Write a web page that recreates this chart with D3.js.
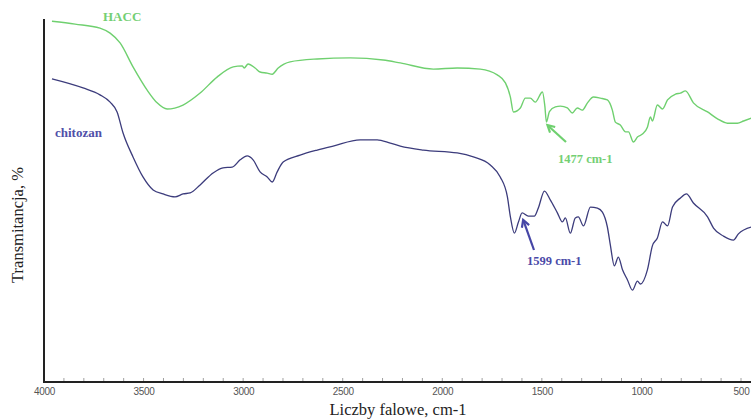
<!DOCTYPE html>
<html>
<head>
<meta charset="utf-8">
<script src="https://cdn.jsdelivr.net/npm/d3@7"></script>
<style>
  html, body { margin: 0; padding: 0; background: #fff; }
  svg { display: block; }
</style>
</head>
<body>
<svg id="chart" width="751" height="419"></svg>
<script>
// FTIR spectra: wavenumber (cm-1) and transmittance (%, arbitrary offset)
const haccWavenumber = [3960, 3844, 3719, 3668, 3618, 3553, 3482, 3432, 3382, 3302, 3216, 3131, 3050, 3005, 2995, 2975, 2940, 2915, 2879, 2854, 2824, 2764, 2628, 2462, 2297, 2211, 2045, 1925, 1809, 1724, 1683, 1658, 1643, 1608, 1583, 1558, 1533, 1497, 1485, 1477, 1462, 1432, 1407, 1372, 1347, 1322, 1297, 1271, 1241, 1206, 1171, 1146, 1131, 1106, 1080, 1065, 1040, 1020, 995, 970, 955, 945, 920, 894, 869, 829, 804, 779, 739, 668, 618, 568, 518, 487, 447];
const haccT = [99.4, 98.6, 97.5, 96.1, 93.4, 86.8, 80.4, 76.9, 75.2, 76.3, 79.6, 84.0, 86.8, 87.1, 86.5, 87.6, 86.5, 85.4, 85.1, 84.8, 86.5, 88.2, 89.0, 89.3, 88.7, 87.9, 86.2, 86.5, 86.2, 84.6, 82.4, 78.5, 74.4, 75.5, 78.2, 78.2, 77.1, 79.9, 76.0, 71.6, 74.5, 75.8, 76.0, 75.5, 74.1, 75.5, 74.9, 76.9, 78.5, 78.2, 77.7, 74.9, 71.6, 70.8, 68.9, 68.9, 66.1, 67.5, 68.3, 70.2, 73.0, 71.9, 76.3, 75.2, 77.7, 79.3, 79.6, 80.2, 76.9, 74.4, 72.5, 71.3, 71.3, 71.9, 72.7];

const chitWavenumber = [3960, 3804, 3719, 3668, 3633, 3603, 3553, 3503, 3452, 3402, 3342, 3302, 3266, 3216, 3151, 3101, 3055, 3015, 2980, 2950, 2915, 2879, 2854, 2829, 2799, 2714, 2628, 2548, 2412, 2327, 2261, 2211, 2095, 1925, 1844, 1759, 1709, 1673, 1658, 1638, 1618, 1599, 1568, 1538, 1518, 1487, 1457, 1422, 1397, 1382, 1357, 1332, 1317, 1291, 1256, 1221, 1196, 1171, 1156, 1136, 1116, 1095, 1070, 1045, 1020, 1005, 970, 945, 920, 894, 869, 844, 804, 774, 739, 668, 638, 588, 538, 513, 447];
const chitT = [83.5, 81.0, 79.1, 77.1, 74.4, 68.6, 62.0, 56.5, 52.9, 51.8, 51.0, 51.8, 52.1, 54.3, 57.6, 59.0, 59.2, 61.2, 62.3, 61.2, 57.9, 56.5, 55.1, 57.9, 60.6, 62.5, 63.9, 65.0, 66.7, 66.7, 65.8, 65.0, 63.9, 63.1, 62.0, 59.8, 56.5, 51.0, 45.5, 41.0, 44.0, 46.6, 45.7, 45.7, 47.9, 52.6, 50.1, 46.6, 44.1, 45.2, 41.0, 45.2, 45.5, 43.0, 48.2, 47.9, 46.8, 42.7, 37.7, 32.0, 34.4, 30.9, 28.1, 25.3, 27.8, 27.0, 30.9, 37.5, 39.7, 44.1, 43.0, 48.2, 50.7, 51.8, 49.3, 45.5, 42.4, 40.2, 39.1, 40.8, 42.7];

const tickValues = [4000, 3500, 3000, 2500, 2000, 1500, 1000, 500];
const seriesNames = ["HACC", "chitozan"];
const bandLabels = [1477, 1599];

const svg = d3.select("#chart");
const x = d3.scaleLinear().domain([4000, 500]).range([44, 741]);
const y = d3.scaleLinear().domain([0, 100]).range([382, 19]);

const green = "#6fd06f";
const navy = "#3c3c7c";

// axes frame
svg.append("line").attr("x1", 44).attr("x2", 44).attr("y1", 19).attr("y2", 382)
  .attr("stroke", "#222").attr("stroke-width", 2);

const xAxis = d3.axisBottom(x).tickValues(tickValues).tickSize(0).tickPadding(6)
  .tickFormat(d3.format("d"));
const gx = svg.append("g").attr("transform", "translate(0,382)").call(xAxis);
gx.select(".domain").remove();
gx.selectAll("text").attr("font-family", "Liberation Sans, Arial, sans-serif")
  .attr("font-size", 10).attr("fill", "#555").attr("letter-spacing", "-0.3");
svg.append("line").attr("x1", 43).attr("x2", 751).attr("y1", 382).attr("y2", 382)
  .attr("stroke", "#222").attr("stroke-width", 2);

// minor ticks every 100 cm-1
svg.append("g").selectAll("line").data(d3.range(3900, 449, -100))
  .join("line")
  .attr("x1", d => x(d)).attr("x2", d => x(d))
  .attr("y1", 378).attr("y2", 381)
  .attr("stroke", "#888").attr("stroke-width", 0.8);

// spectra
const line = d3.line().x(d => x(d[0])).y(d => y(d[1])).curve(d3.curveMonotoneX);
const hacc = d3.zip(haccWavenumber, haccT);
const chit = d3.zip(chitWavenumber, chitT);

svg.append("path").datum(hacc).attr("d", line)
  .attr("fill", "none").attr("stroke", green).attr("stroke-width", 1.4)
  .attr("stroke-linejoin", "round");
svg.append("path").datum(chit).attr("d", line)
  .attr("fill", "none").attr("stroke", navy).attr("stroke-width", 1.3)
  .attr("stroke-linejoin", "round");

// series labels
svg.append("text").attr("x", 103).attr("y", 21).text(seriesNames[0])
  .attr("font-family", "Liberation Serif, Times New Roman, serif").attr("font-weight", "bold")
  .attr("font-size", 13).attr("fill", "#74cf74");
svg.append("text").attr("x", 55).attr("y", 137).text(seriesNames[1])
  .attr("font-family", "Liberation Serif, Times New Roman, serif").attr("font-weight", "bold")
  .attr("font-size", 13).attr("fill", "#5050a8");

// band annotations with arrows
const interp = (ws, ts, w) => {
  for (let i = 0; i < ws.length - 1; i++) {
    if (w <= ws[i] && w >= ws[i + 1]) {
      const t = (ws[i] - w) / (ws[i] - ws[i + 1]);
      return ts[i] + t * (ts[i + 1] - ts[i]);
    }
  }
  return ts[ts.length - 1];
};

function arrow(x1, y1, x2, y2, color) {
  const ang = Math.atan2(y2 - y1, x2 - x1);
  const L = 8, W = 0.5;
  svg.append("line").attr("x1", x1).attr("y1", y1)
    .attr("x2", x2 - Math.cos(ang) * 2).attr("y2", y2 - Math.sin(ang) * 2)
    .attr("stroke", color).attr("stroke-width", 2.2);
  const p1 = [x2 - L * Math.cos(ang - W), y2 - L * Math.sin(ang - W)];
  const p2 = [x2 - L * Math.cos(ang + W), y2 - L * Math.sin(ang + W)];
  svg.append("path").attr("d", `M${p1[0]},${p1[1]} L${x2},${y2} L${p2[0]},${p2[1]}`)
    .attr("fill", "none").attr("stroke", color).attr("stroke-width", 2.2)
    .attr("stroke-linejoin", "miter");
}

// 1477 cm-1 on HACC
{
  const w = bandLabels[0];
  const hx = x(w), hy = y(interp(haccWavenumber, haccT, w)) + 3;
  arrow(566, 142, hx + 1, hy, "#6fd06f");
  svg.append("text").attr("x", 558).attr("y", 163).text(`${w} cm-1`)
    .attr("font-family", "Liberation Serif, Times New Roman, serif").attr("font-weight", "bold")
    .attr("font-size", 12.5).attr("fill", "#74cf74");
}
// 1599 cm-1 on chitozan
{
  const w = bandLabels[1];
  const hx = x(w), hy = y(interp(chitWavenumber, chitT, w)) + 7;
  arrow(534, 250, hx + 1, hy, "#4646a6");
  svg.append("text").attr("x", 527).attr("y", 265).text(`${w} cm-1`)
    .attr("font-family", "Liberation Serif, Times New Roman, serif").attr("font-weight", "bold")
    .attr("font-size", 12.5).attr("fill", "#4a4aa8");
}

// axis titles
svg.append("text").attr("x", 398).attr("y", 415).attr("text-anchor", "middle")
  .text("Liczby falowe, cm-1")
  .attr("font-family", "Liberation Serif, Times New Roman, serif").attr("font-size", 16.5).attr("fill", "#222");
svg.append("text").attr("transform", "translate(23,225) rotate(-90)").attr("text-anchor", "middle")
  .text("Transmitancja, %")
  .attr("font-family", "Liberation Serif, Times New Roman, serif").attr("font-size", 16.5).attr("fill", "#222");
</script>
</body>
</html>
